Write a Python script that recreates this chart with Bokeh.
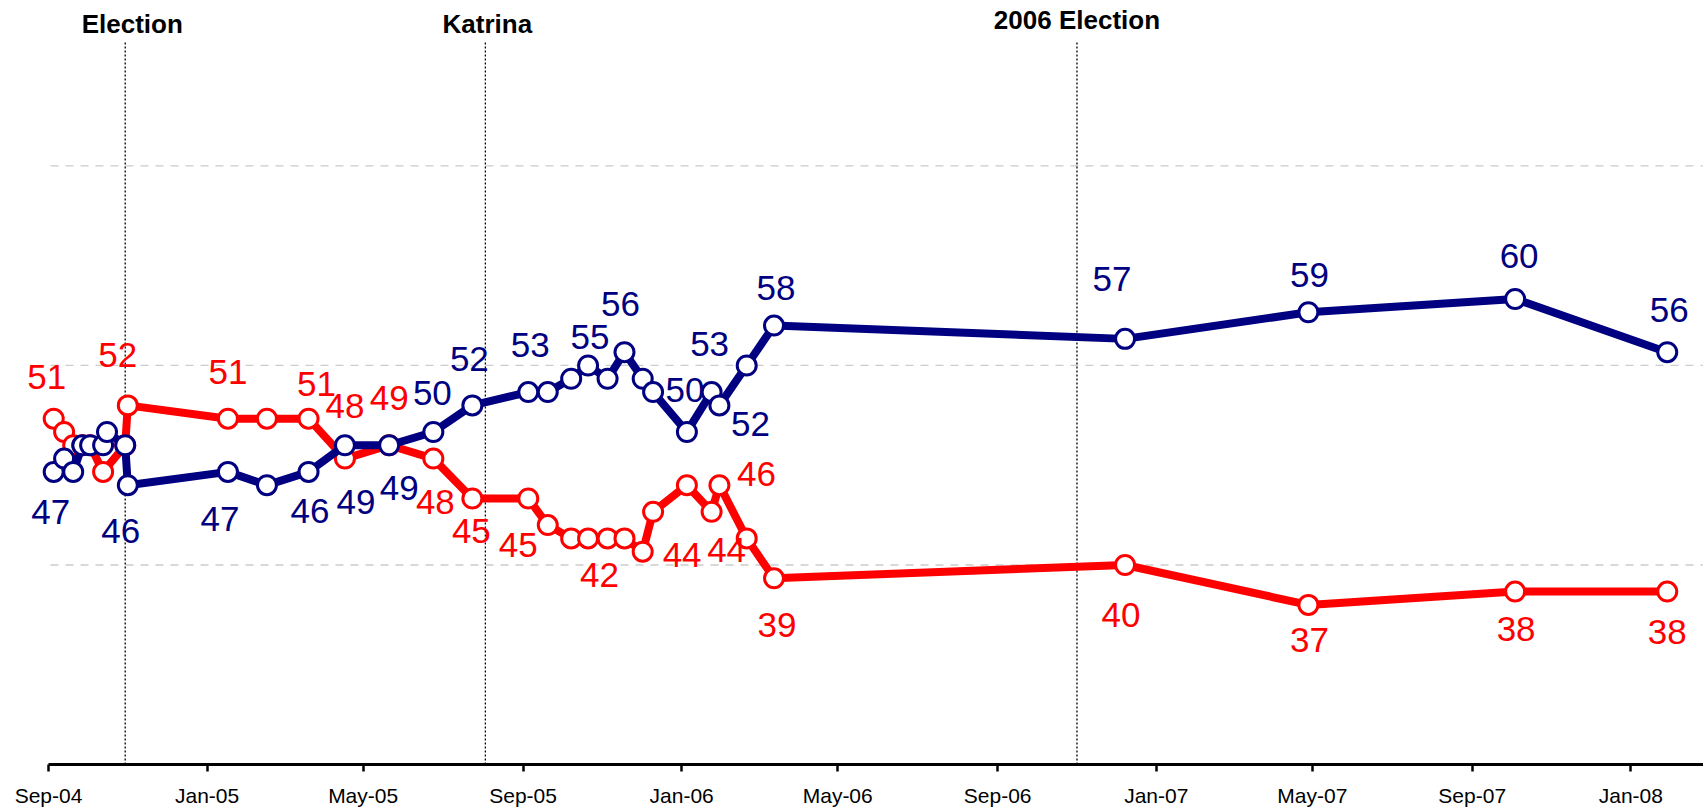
import pandas as pd
from bokeh.plotting import figure
from bokeh.models import ColumnDataSource, FixedTicker, DatetimeTickFormatter, Range1d, LabelSet
from bokeh.core.properties import value
from bokeh.embed import file_html
from bokeh.resources import INLINE

# ---------------- data ----------------
dates = ["2004-09-05", "2004-09-13", "2004-09-20", "2004-09-27", "2004-10-03",
         "2004-10-13", "2004-10-16", "2004-10-30", "2004-11-01",
         "2005-01-17", "2005-02-16", "2005-03-20", "2005-04-17", "2005-05-21",
         "2005-06-24", "2005-07-24", "2005-09-05", "2005-09-20", "2005-10-08",
         "2005-10-21", "2005-11-05", "2005-11-18", "2005-12-02", "2005-12-10",
         "2006-01-05", "2006-01-24", "2006-01-30", "2006-02-20", "2006-03-13",
         "2006-12-08", "2007-04-28", "2007-10-04", "2008-01-29"]
blue = [47, 48, 47, 49, 49, 49, 50, 49, 46,
        47, 46, 47, 49, 49, 50, 52, 53, 53, 54, 55, 54, 56, 54, 53,
        50, 53, 52, 55, 58, 57, 59, 60, 56]
red = [51, 50, 49, 49, 49, 47, None, 49, 52,
       51, 51, 51, 48, 49, 48, 45, 45, 43, 42, 42, 42, 42, 41, 44,
       46, 44, 46, 42, 39, 40, 37, 38, 38]

tick_dates = ["2004-09-01", "2005-01-01", "2005-05-01", "2005-09-01",
              "2006-01-01", "2006-05-01", "2006-09-01", "2007-01-01", "2007-05-01",
              "2007-09-01", "2008-01-01"]
grid_values = [40, 55, 70]
events = ["Election", "Katrina", "2006 Election"]
event_dates = ["2004-10-30", "2005-08-03", "2006-11-01"]

# labelled points: (index, x offset px, y offset px downward)
red_label_pos = [(0, -7, -42), (8, -10, -50), (9, 0, -47), (11, 8, -35), (12, 0, -53),
                 (13, 0, -47), (14, 2, 43), (15, -1, 33), (16, -10, 47), (20, -8, 37),
                 (23, 29, 43), (25, 15, 38), (26, 37, -11), (28, 3, 47), (29, -4, 50),
                 (30, 1, 35), (31, 1, 37), (32, 0, 40)]
blue_label_pos = [(0, -3, 40), (8, -7, 46), (9, -8, 47), (10, 43, 26), (12, 11, 57),
                  (13, 10, 43), (14, -1, -39), (15, -3, -46), (16, 2, -47), (19, 2, -28),
                  (21, -4, -48), (24, -2, -42), (25, -2, -48), (26, 31, 19), (28, 2, -38),
                  (29, -13, -60), (30, 1, -37), (31, 4, -43), (32, 2, -42)]

# ---------------- styling ----------------
NAVY = "#000080"
RED = "#FF0000"
FONT = "Liberation Sans"
DAY = 86400000.0
PX_PER_DAY = 1.3002
LEFT_PAD = 48


def ms(d):
    return pd.Timestamp(d).value / 1e6


x0 = ms("2004-09-01")
x_start = x0 - LEFT_PAD / PX_PER_DAY * DAY
x_end = x0 + (1703 - LEFT_PAD) / PX_PER_DAY * DAY
p = figure(width=1703, height=810, x_axis_type="datetime",
           x_range=Range1d(x_start, x_end), y_range=Range1d(25, 82.44),
           output_backend="svg", toolbar_location=None,
           min_border_left=0, min_border_right=0, min_border_top=0, min_border_bottom=46)
p.outline_line_color = None
p.background_fill_color = "white"
p.border_fill_color = "white"

p.yaxis.visible = False
p.xgrid.visible = False
p.ygrid.visible = False

# dashed horizontal gridlines starting at the axis origin
p.segment(x0=[x0 + 2 / PX_PER_DAY * DAY] * len(grid_values), y0=grid_values,
          x1=[x_end] * len(grid_values), y1=grid_values,
          line_color="#CCCCCC", line_width=1.3, line_dash="8 7")

xa = p.xaxis[0]
xa.bounds = (x0, x_end)
xa.ticker = FixedTicker(ticks=[ms(d) for d in tick_dates], minor_ticks=[])
fmt = "%b-%y"
xa.formatter = DatetimeTickFormatter(milliseconds=fmt, seconds=fmt, minsec=fmt, minutes=fmt,
                                     hourmin=fmt, hours=fmt, days=fmt, months=fmt, years=fmt)
xa.axis_line_color = "black"
xa.axis_line_width = 3
xa.major_tick_line_color = "black"
xa.major_tick_line_width = 2.5
xa.major_tick_out = 7
xa.major_tick_in = 0
xa.minor_tick_out = 0
xa.minor_tick_in = 0
xa.major_label_text_font = FONT
xa.major_label_text_font_size = "21px"
xa.major_label_text_color = "black"
xa.major_label_standoff = 12

# event markers
ev_x = [ms(d) for d in event_dates]
p.segment(x0=ev_x, y0=[25] * 3, x1=ev_x, y1=[79.44] * 3,
          line_color="black", line_width=1.3, line_dash="2 2")
p.text(x=ev_x, y=[80.71, 80.71, 80.98], text=events, x_offset=[7, 2, 0],
       text_align="center", text_baseline="middle", text_font=value(FONT),
       text_font_style="bold", text_font_size="26px", text_color="black")


def series(vals, color, label_pos):
    xs = [pd.Timestamp(d) for d, v in zip(dates, vals) if v is not None]
    ys = [v for v in vals if v is not None]
    src = ColumnDataSource(dict(x=xs, y=ys))
    p.line("x", "y", source=src, line_color=color, line_width=8, line_join="round")
    p.scatter("x", "y", source=src, size=19, fill_color="white", line_color=color,
              line_width=3)
    lx = [pd.Timestamp(dates[i]) for i, _, _ in label_pos]
    ly = [vals[i] for i, _, _ in label_pos]
    lsrc = ColumnDataSource(dict(x=lx, y=ly, t=[str(v) for v in ly],
                                 dx=[a for _, a, _ in label_pos],
                                 dy=[-b for _, _, b in label_pos]))
    p.add_layout(LabelSet(x="x", y="y", text="t", x_offset="dx", y_offset="dy",
                          source=lsrc, text_align="center", text_baseline="middle",
                          text_font=value(FONT), text_font_size="35px",
                          text_color=color))


series(red, RED, red_label_pos)
series(blue, NAVY, blue_label_pos)

open("out.html", "w").write(file_html(p, INLINE))
